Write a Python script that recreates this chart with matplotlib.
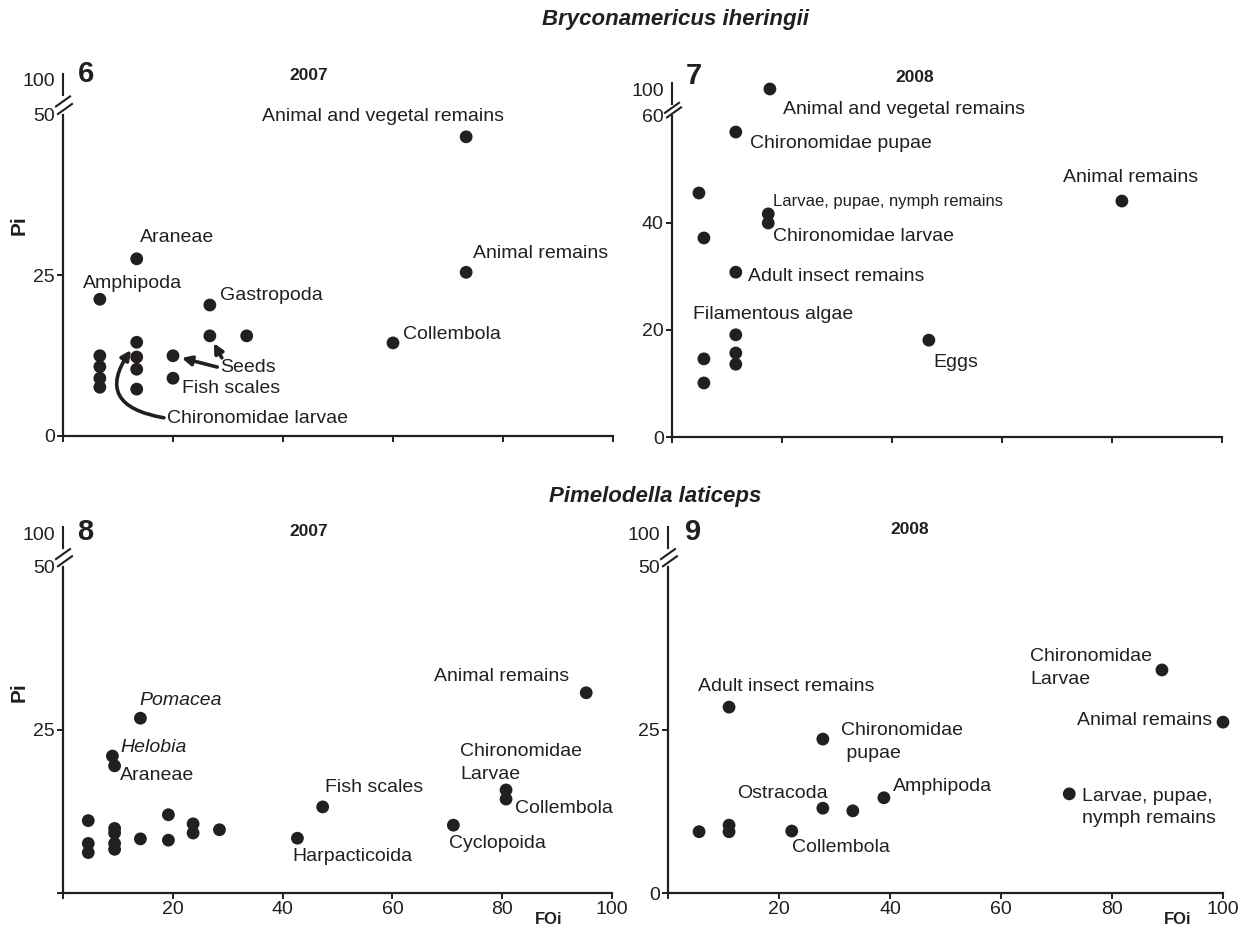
import numpy as np
import matplotlib
matplotlib.use("Agg")
import matplotlib.pyplot as plt
from matplotlib import font_manager
from matplotlib.lines import Line2D
from matplotlib.transforms import IdentityTransform

plt.rcParams['font.family'] = ['Liberation Sans', 'DejaVu Sans']

INK = '#231f20'
W, H = 1258, 932

# ---- Bryconamericus iheringii, 2007 (panel 6) ----
fo_b07 = [73.3, 73.3, 60.0, 13.4, 6.7, 26.7, 26.7, 33.4, 13.4, 13.4, 13.4, 13.4,
          6.7, 6.7, 6.7, 6.7, 20.0, 20.0]
pi_b07 = [46.6, 25.5, 14.5, 27.6, 21.3, 20.4, 15.6, 15.6, 14.6, 12.3, 10.4, 7.3,
          12.5, 10.8, 9.0, 7.6, 12.5, 9.0]
lab_b07 = ["Animal and vegetal remains", "Animal remains", "Collembola", "Araneae",
           "Amphipoda", "Gastropoda", "", "", "", "", "", "", "", "", "", "", "",
           "Fish scales"]

# ---- Bryconamericus iheringii, 2008 (panel 7) ----
fo_b08 = [17.8, 11.6, 4.9, 5.8, 17.5, 17.5, 11.6, 11.6, 11.6, 11.6, 5.8, 5.8, 46.7, 81.8]
pi_b08 = [100.0, 57.0, 45.6, 37.2, 41.7, 40.0, 30.8, 19.1, 15.7, 13.6, 14.6, 10.1, 18.1, 44.1]
lab_b08 = ["Animal and vegetal remains", "Chironomidae pupae", "", "",
           "Larvae, pupae, nymph remains", "Chironomidae larvae", "Adult insect remains",
           "Filamentous algae", "", "", "", "", "Eggs", "Animal remains"]

# ---- Pimelodella laticeps, 2007 (panel 8) ----
fo_p07 = [14.1, 9.0, 9.4, 4.6, 4.6, 4.6, 9.4, 9.4, 9.4, 9.4, 14.1, 19.2, 19.2,
          23.7, 23.7, 28.5, 42.7, 47.3, 95.3, 80.7, 80.7, 71.1]
pi_p07 = [26.8, 21.0, 19.5, 11.1, 7.6, 6.2, 9.9, 9.2, 7.6, 6.7, 8.3, 12.0, 8.1,
          10.6, 9.2, 9.7, 8.4, 13.2, 30.7, 15.8, 14.4, 10.4]
lab_p07 = ["Pomacea", "Helobia", "Araneae", "", "", "", "", "", "", "", "", "", "",
           "", "", "", "Harpacticoida", "Fish scales", "Animal remains",
           "Chironomidae\nLarvae", "Collembola", "Cyclopoida"]

# ---- Pimelodella laticeps, 2008 (panel 9) ----
fo_p08 = [11.0, 27.9, 38.9, 27.9, 33.3, 11.0, 11.0, 5.6, 22.3, 89.0, 100.0, 72.3]
pi_p08 = [28.5, 23.6, 14.6, 13.0, 12.6, 10.4, 9.4, 9.4, 9.5, 34.2, 26.2, 15.2]
lab_p08 = ["Adult insect remains", "Chironomidae\n pupae", "Amphipoda", "Ostracoda",
           "", "", "", "", "Collembola", "Chironomidae\nLarvae", "Animal remains",
           "Larvae, pupae,\nnymph remains"]

# label offsets in pixels from the dot (dx right, dy down) and alignment
off_b07 = [(-83, -20, 'center'), (7, -19, 'left'), (10, -8, 'left'), (3, -21, 'left'),
           (-17, -16, 'left'), (10, -10, 'left')] + [None] * 11 + [(9, 10, 'left')]
off_b08 = [(13, 20, 'left'), (14, 11, 'left'), None, None, (5, -12, 'left'),
           (5, 14, 'left'), (12, 4, 'left'), (-43, -20, 'left'), None, None, None, None,
           (5, 22, 'left'), (-59, -24, 'left')]
off_p07 = [(-1, -18, 'left'), (8, -9, 'left'), (5, 10, 'left')] + [None] * 13 + \
          [(-5, 18, 'left'), (2, -19, 'left'), (-17, -16, 'right'), (-46, -27, 'left'),
           (9, 9, 'left'), (-4, 18, 'left')]
off_p08 = [(-31, -21, 'left'), (18, 3, 'left'), (9, -11, 'left'), (5, -15, 'right'),
           None, None, None, None, (0, 16, 'left'), (-10, -2, 'right'),
           (-11, -2, 'right'), (13, 14, 'left')]

names = {f.name for f in font_manager.fontManager.ttflist}
NARROW = 'Liberation Sans Narrow' in names

fig = plt.figure(figsize=(W / 100, H / 100), dpi=100)


def make_axes(x0, x1, y0, y1, lo, k, yticks, ylabels, xlabels):
    ax = fig.add_axes([x0 / W, 1 - y0 / H, (x1 - x0) / W, (y0 - y1) / H])
    fwd = lambda y: np.where(y <= lo, y, lo + (y - lo) * k)
    inv = lambda y: np.where(y <= lo, y, lo + (y - lo) / k)
    ax.set_yscale('function', functions=(fwd, inv))
    ax.set_xlim(0, 100)
    ax.set_ylim(0, 100)
    for s in ('top', 'right'):
        ax.spines[s].set_visible(False)
    for s in ('left', 'bottom'):
        ax.spines[s].set_linewidth(1.6)
        ax.spines[s].set_color(INK)
    ax.spines['left'].set_bounds(0, lo)
    ax.set_yticks(yticks)
    ax.set_yticklabels(ylabels)
    ax.set_xticks([0, 20, 40, 60, 80, 100])
    ax.set_xticklabels(xlabels)
    ax.minorticks_off()
    ax.tick_params(axis='both', direction='out', length=4.5, width=1.4, color=INK,
                   labelsize=14, labelcolor=INK, pad=1.5)
    for t, v in zip(ax.yaxis.get_major_ticks(), yticks):
        if v >= lo:
            t.tick1line.set_visible(False)
    ax.patch.set_alpha(0)

    # axis break drawn in pixel space
    x, ylo = ax.transData.transform((0, lo))
    _, yhi = ax.transData.transform((0, 100))
    top, bot = yhi + 6, yhi - 15
    lines = [([x, x], [top, bot])]
    g = bot - ylo
    for c, sx in ((ylo + g * 0.68, 0), (ylo + g * 0.3, 2)):
        lines.append(([x + sx - 7, x + sx + 7], [c - 5, c + 5]))
    for xs, ys in lines:
        fig.add_artist(Line2D(xs, ys, color=INK, lw=1.5, transform=IdentityTransform()))
    return ax


def draw(ax, fo, pi, labels, offsets, italic=()):
    ax.scatter(fo, pi, s=85, color=INK, edgecolors='none', zorder=3, clip_on=False)
    for i, (x, y, t, o) in enumerate(zip(fo, pi, labels, offsets)):
        if not t or o is None:
            continue
        dx, dy, ha = o
        kw = dict(fontsize=14)
        if t.startswith("Larvae, pupae, nymph"):
            kw = dict(fontsize=14, family=['Liberation Sans Narrow', 'Liberation Sans']) \
                if NARROW else dict(fontsize=12)
        ax.annotate(t, (x, y), xytext=(dx, -dy), textcoords='offset pixels', ha=ha,
                    va='center', color=INK, multialignment='left', linespacing=1.4,
                    style='italic' if i in italic else 'normal', **kw)


def ftext(px, py, s, **kw):
    fig.text(px / W, 1 - py / H, s, color=INK, ha='center', va='center', **kw)


ax6 = make_axes(63, 613, 436, 80, 50, 0.109, [0, 25, 50, 100], ['0', '25', '50', '100'],
                [''] * 6)
draw(ax6, fo_b07, pi_b07, lab_b07, off_b07)
arrow = dict(arrowstyle='-|>', lw=2.6, color=INK, mutation_scale=14, shrinkA=0)
ax6.annotate("Seeds", (fo_b07[16], pi_b07[16]), xytext=(47, -12), textcoords='offset pixels',
             ha='left', va='center', fontsize=14, color=INK,
             arrowprops=dict(arrow, shrinkB=6.5, relpos=(0, 0.5)))
ax6.annotate("", (fo_b07[6], pi_b07[6]), xytext=(12, -22), textcoords='offset pixels',
             arrowprops=dict(arrow, shrinkB=6))
ax6.annotate("Chironomidae larvae", (fo_b07[8], pi_b07[8]), xytext=(30, -76),
             textcoords='offset pixels', ha='left', va='center', fontsize=14, color=INK,
             arrowprops=dict(arrow, shrinkB=7, relpos=(0, 0.5),
                             connectionstyle='arc3,rad=-0.85'))

ax7 = make_axes(672, 1222, 437, 89, 60, 0.126, [0, 20, 40, 60, 100],
                ['0', '20', '40', '60', '100'], [''] * 6)
draw(ax7, fo_b08, pi_b08, lab_b08, off_b08)

ax8 = make_axes(63, 612, 893, 533, 50, 0.104, [0, 25, 50, 100], ['', '25', '50', '100'],
                ['', '20', '40', '60', '80', '100'])
draw(ax8, fo_p07, pi_p07, lab_p07, off_p07, italic=(0, 1))

ax9 = make_axes(668, 1223, 893, 533, 50, 0.104, [0, 25, 50, 100], ['0', '25', '50', '100'],
                ['', '20', '40', '60', '80', '100'])
draw(ax9, fo_p08, pi_p08, lab_p08, off_p08)

# titles and panel marks
ftext(675, 20, "Bryconamericus iheringii", fontsize=16, weight='bold', style='italic')
ftext(655, 497, "Pimelodella laticeps", fontsize=16, weight='bold', style='italic')
for px, py, s in ((86, 74, '6'), (694, 76, '7'), (85, 532, '8'), (693, 532, '9')):
    ftext(px, py, s, fontsize=21, weight='bold')
for px, py, s in ((309, 75, '2007'), (915, 77, '2008'), (309, 531, '2007'), (910, 529, '2008')):
    ftext(px, py, s, fontsize=12.5, weight='bold')
for py in (225, 692):
    ftext(19, py, "Pi", fontsize=15, weight='bold', rotation=90)
for px in (549, 1178):
    ftext(px, 920, "FOi", fontsize=12, weight='bold')

fig.savefig("out.png", dpi=100)
